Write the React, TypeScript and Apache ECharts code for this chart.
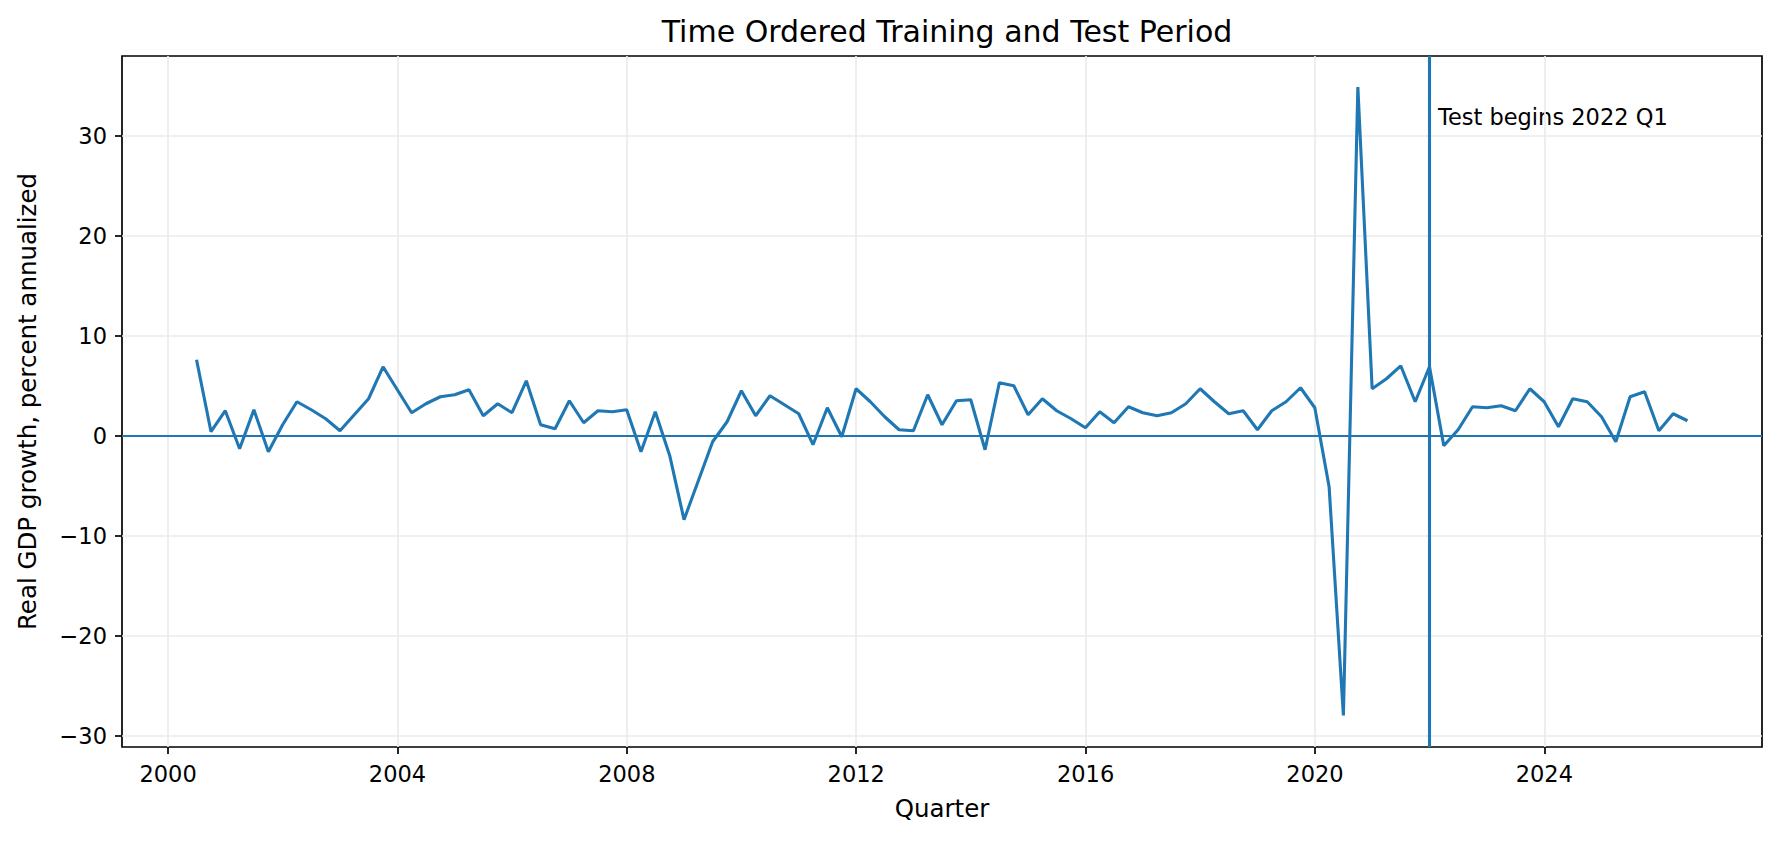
import React, { useEffect, useRef } from 'react';
import * as echarts from 'echarts';

// quarterly real GDP growth, percent annualized, starting 2000 Q2
const FIRST_YEAR = 2000;
const FIRST_QUARTER = 2;
const growth = [
  7.6, 0.4, 2.5, -1.3, 2.6, -1.6, 1.1, 3.4, 2.6, 1.7,
  0.5, 2.1, 3.7, 6.9, 4.6, 2.3, 3.2, 3.9, 4.1, 4.6,
  2.0, 3.2, 2.3, 5.5, 1.1, 0.7, 3.5, 1.3, 2.5, 2.4,
  2.6, -1.6, 2.4, -2.0, -8.4, -4.5, -0.6, 1.4, 4.5, 2.0,
  4.0, 3.1, 2.2, -0.9, 2.8, -0.1, 4.7, 3.4, 1.9, 0.6,
  0.5, 4.1, 1.1, 3.5, 3.6, -1.4, 5.3, 5.0, 2.1, 3.7,
  2.5, 1.7, 0.8, 2.4, 1.3, 2.9, 2.3, 2.0, 2.3, 3.2,
  4.7, 3.4, 2.2, 2.5, 0.6, 2.5, 3.4, 4.8, 2.8, -5.1,
  -28.0, 34.9, 4.7, 5.7, 7.0, 3.4, 6.9, -1.0, 0.6, 2.9,
  2.8, 3.0, 2.5, 4.7, 3.4, 0.9, 3.7, 3.4, 1.9, -0.6,
  3.9, 4.4, 0.5, 2.2, 1.5,
];

const xTicks = [2000, 2004, 2008, 2012, 2016, 2020, 2024];
const yTicks = [-30, -20, -10, 0, 10, 20, 30];

const TEST_YEAR = 2022;
const TEST_QUARTER = 1;
const TEST_LABEL = `Test begins ${TEST_YEAR} Q${TEST_QUARTER}`;

// fraction of the year at each quarter's last day
const QEND = [90 / 365, 181 / 365, 273 / 365, 364 / 365];

function quarterEnd(i: number): number {
  const q0 = FIRST_QUARTER - 1 + i;
  return FIRST_YEAR + Math.floor(q0 / 4) + QEND[q0 % 4];
}

const BLUE = '#1f77b4';
const FONT = 'DejaVu Sans';

export default function App() {
  const elRef = useRef<HTMLDivElement | null>(null);

  useEffect(() => {
    if (!elRef.current) return;
    const chart = echarts.init(elRef.current, null, { renderer: 'svg' });

    const points = growth.map((v, i) => [quarterEnd(i), v]);
    const testX = TEST_YEAR + (TEST_QUARTER - 1) / 4;

    const xs = points.map((p) => p[0]);
    const xSpan = xs[xs.length - 1] - xs[0];
    const xMin = xs[0] - 0.05 * xSpan;
    const xMax = xs[xs.length - 1] + 0.05 * xSpan;

    const opt: echarts.EChartsOption = {
      animation: false,
      backgroundColor: '#fff',
      textStyle: { fontFamily: FONT },
      title: {
        text: 'Time Ordered Training and Test Period',
        left: 942,
        top: 11,
        textAlign: 'center',
        textStyle: { fontSize: 30, fontWeight: 'normal', color: '#000', fontFamily: FONT },
      },
      grid: {
        left: 122,
        top: 56,
        width: 1640,
        height: 691,
        show: true,
        borderColor: '#000',
        borderWidth: 1.7,
        backgroundColor: 'transparent',
      },
      xAxis: {
        type: 'value',
        min: xMin,
        max: xMax,
        name: 'Quarter',
        nameLocation: 'middle',
        nameGap: 49,
        nameTextStyle: { fontSize: 24.5, color: '#000', fontFamily: FONT },
        axisLine: { show: false, onZero: false },
        axisTick: {
          show: true,
          length: 7,
          customValues: xTicks,
          lineStyle: { color: '#000', width: 1.7 },
        },
        axisLabel: {
          customValues: xTicks,
          margin: 15,
          fontSize: 22.5,
          color: '#000',
          fontFamily: FONT,
          formatter: (v: number) => String(Math.round(v)),
        },
        splitLine: { show: true, lineStyle: { color: '#ebebeb', width: 1.7 } },
      },
      yAxis: {
        type: 'value',
        min: -31.15,
        max: 38.0,
        name: 'Real GDP growth, percent annualized',
        nameLocation: 'middle',
        nameGap: 82.5,
        nameTextStyle: { fontSize: 24.5, color: '#000', fontFamily: FONT },
        axisLine: { show: false, onZero: false },
        axisTick: {
          show: true,
          length: 7,
          customValues: yTicks,
          lineStyle: { color: '#000', width: 1.7 },
        },
        axisLabel: {
          customValues: yTicks,
          margin: 15,
          fontSize: 22.5,
          color: '#000',
          fontFamily: FONT,
          formatter: (v: number) => (v < 0 ? '\u2212' + Math.abs(v) : String(v)),
        },
        splitLine: { show: true, lineStyle: { color: '#ebebeb', width: 1.7 } },
      },
      graphic: [
        {
          type: 'text',
          left: 1438,
          top: 105,
          style: { text: TEST_LABEL, fontSize: 22.5, fontFamily: FONT, fill: '#000' },
        },
      ],
      series: [
        {
          type: 'line',
          data: points,
          showSymbol: false,
          symbol: 'none',
          lineStyle: { color: BLUE, width: 3.1 },
          itemStyle: { color: BLUE },
          z: 3,
          markLine: {
            silent: true,
            symbol: 'none',
            label: { show: false },
            data: [
              { yAxis: 0, lineStyle: { color: BLUE, width: 2.1, type: 'solid' } },
              { xAxis: testX, lineStyle: { color: BLUE, width: 3.1, type: 'solid' } },
            ],
          },
        },
      ],
    };

    chart.setOption(opt, true);
    return () => {
      chart.dispose();
    };
  }, []);

  return (
    <div
      ref={elRef}
      style={{ position: 'fixed', left: 0, top: 0, width: 1781, height: 841, background: '#fff' }}
    />
  );
}
